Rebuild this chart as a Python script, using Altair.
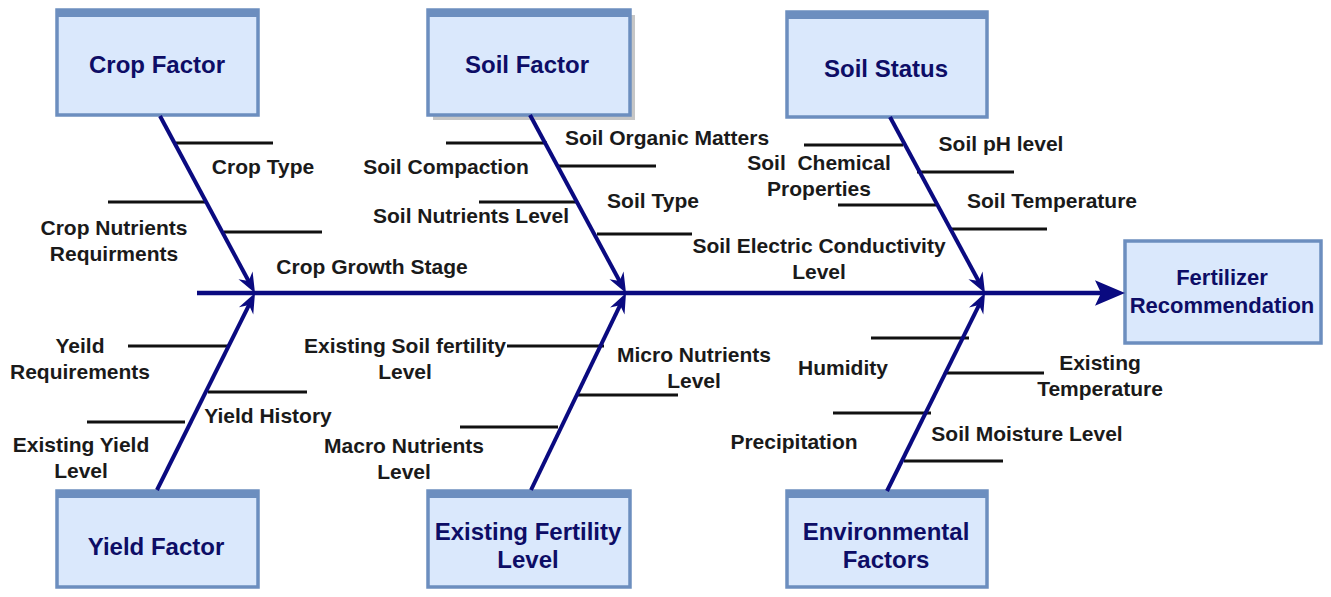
import math
import altair as alt
import pandas as pd

# ---------------- data ----------------
box_labels = ["Crop Factor", "Soil Factor", "Soil Status", "Yield Factor",
              "Existing Fertility\nLevel", "Environmental\nFactors",
              "Fertilizer\nRecommendation"]
box_left = [57, 428, 787, 57, 428, 787, 1125]
box_right = [258, 630, 987, 258, 630, 987, 1321]
box_top = [10, 10, 12, 491, 491, 491, 241]
box_bottom = [115, 115, 117, 587, 587, 587, 343]
box_text_x = [157, 527, 886, 156, 528, 886, 1222]
box_text_y = [73, 73, 77, 555, 540, 540, 285]
box_font = [24, 24, 24, 24, 24, 24, 22]
box_bar = [1, 1, 1, 1, 1, 1, 0]
box_shadow = [0, 1, 0, 0, 0, 0, 0]

branch_x1 = [160, 157, 530, 531, 890, 887]
branch_y1 = [116, 490, 115, 490, 117, 491]
branch_tip_x = [255, 255, 626, 626, 985, 985]
spine_y = 293
spine_x = [197, 1125]

rib_x1 = [176, 108, 224, 128, 208, 87,
          446, 558, 479, 597, 507, 578, 460,
          804, 917, 838, 949,
          871, 947, 833, 904]
rib_x2 = [273, 207, 322, 230, 307, 185,
          547, 656, 577, 692, 604, 678, 558,
          903, 1014, 936, 1047,
          969, 1044, 931, 1003]
rib_y = [143, 202, 232, 346, 392, 422,
         143, 166, 202, 234, 346, 395, 427,
         145, 172, 205, 229,
         338, 373, 413, 461]

cause_labels = ["Crop Type", "Crop Nutrients\nRequirments", "Crop Growth Stage",
                "Yeild\nRequirements", "Yield History", "Existing Yield\nLevel",
                "Soil Organic Matters", "Soil Compaction", "Soil Nutrients Level",
                "Soil Type", "Soil Electric Conductivity\nLevel",
                "Existing Soil fertility\nLevel", "Micro Nutrients\nLevel",
                "Macro Nutrients\nLevel",
                "Soil pH level", "Soil\u00a0\u00a0Chemical\nProperties", "Soil Temperature",
                "Humidity", "Existing\nTemperature", "Precipitation",
                "Soil Moisture Level"]
cause_x = [263, 114, 372, 80, 268, 81,
           667, 446, 471, 653, 819, 405, 694, 404,
           1001, 819, 1052,
           843, 1100, 794, 1027]
cause_y = [174, 235, 274, 353, 423, 452,
           145, 174, 223, 208, 253, 353, 362, 453,
           151, 170, 208,
           375, 370, 449, 441]

# ---------------- styles ----------------
NAVY = "#0a0a80"
FILL = "#dae8fc"
EDGE = "#6c8ebf"
TXT = "#1a1a1a"
FONT = "Liberation Sans"


def X(f):
    return alt.X(f, type="quantitative", axis=None,
                 scale=alt.Scale(domain=[8, 1323], nice=False, zero=False))


def Y(f):
    return alt.Y(f, type="quantitative", axis=None,
                 scale=alt.Scale(domain=[8, 589], nice=False, zero=False, reverse=True))


def X2(f):
    return alt.X2(f)


def Y2(f):
    return alt.Y2(f)


boxes = pd.DataFrame({"label": box_labels, "l": box_left, "r": box_right,
                      "t": box_top, "b": box_bottom, "tx": box_text_x,
                      "ty": box_text_y, "fs": box_font, "bar": box_bar, "sh": box_shadow})
boxes["sl"] = boxes["l"] + 5
boxes["sr"] = boxes["r"] + 5
boxes["st"] = boxes["t"] + 5
boxes["sb"] = boxes["b"] + 5
boxes["bt"] = boxes["t"] + 7
boxes["tyt"] = boxes["ty"] - (boxes["fs"] * 0.79).round()

shadow = alt.Chart(boxes[boxes.sh == 1]).mark_rect(color="#a0a0a0", opacity=0.6).encode(
    x=X("sl"), x2=X2("sr"), y=Y("st"), y2=Y2("sb"))
box_rect = alt.Chart(boxes).mark_rect(fill=FILL, stroke=EDGE, strokeWidth=3.5).encode(
    x=X("l"), x2=X2("r"), y=Y("t"), y2=Y2("b"))
box_barm = alt.Chart(boxes[boxes.bar == 1]).mark_rect(color=EDGE).encode(
    x=X("l"), x2=X2("r"), y=Y("t"), y2=Y2("bt"))
box_txt = alt.Chart(boxes).mark_text(
    font=FONT, fontWeight="bold", color="#0d0d66",
    baseline="top", align="center", lineBreak="\n", lineHeight=28).encode(
    x=X("tx"), y=Y("tyt"), text="label:N", size=alt.Size("fs:Q", scale=None))

# branches
rows = []
for x1, y1, xt in zip(branch_x1, branch_y1, branch_tip_x):
    dx, dy = xt - x1, spine_y - y1
    d = math.hypot(dx, dy)
    ang = math.degrees(math.atan2(dy, dx)) % 360
    rows.append({"x1": x1, "y1": y1, "xe": xt - dx / d * 11, "ye": spine_y - dy / d * 11,
                 "xt": xt, "yt": spine_y, "ang": ang})
br = pd.DataFrame(rows)

branch_lines = alt.Chart(br).mark_rule(color=NAVY, strokeWidth=4).encode(
    x=X("x1"), y=Y("y1"), x2=X2("xe"), y2=Y2("ye"))
head_path = "M0,0 L-2,-0.8 L-1.35,0 L-2,0.8 Z"
branch_heads = alt.Chart(br).mark_point(
    shape=head_path, filled=True, size=400, color=NAVY, opacity=1, strokeWidth=0).encode(
    x=X("xt"), y=Y("yt"), angle=alt.Angle("ang:Q", scale=None))

sp = pd.DataFrame({"x1": [spine_x[0]], "x2": [spine_x[1] - 22], "xt": [spine_x[1]],
                   "y": [spine_y], "ang": [0]})
spine = alt.Chart(sp).mark_rule(color=NAVY, strokeWidth=4.5).encode(
    x=X("x1"), x2=X2("x2"), y=Y("y"))
spine_head = alt.Chart(sp).mark_point(
    shape="M0,0 L-2,-0.85 L-1.6,0 L-2,0.85 Z", filled=True, size=900,
    color=NAVY, opacity=1, strokeWidth=0).encode(
    x=X("xt"), y=Y("y"), angle=alt.Angle("ang:Q", scale=None))

ribs = pd.DataFrame({"x1": rib_x1, "x2": rib_x2, "y": rib_y})
rib_lines = alt.Chart(ribs).mark_rule(color="#111111", strokeWidth=2.8).encode(
    x=X("x1"), x2=X2("x2"), y=Y("y"))

causes = pd.DataFrame({"label": cause_labels, "x": cause_x, "y": cause_y})
causes["yt"] = causes["y"] - 17
cause_txt = alt.Chart(causes).mark_text(
    font=FONT, fontSize=21, fontWeight="bold", color=TXT,
    baseline="top", align="center", lineBreak="\n", lineHeight=26).encode(
    x=X("x"), y=Y("yt"), text="label:N")

chart = alt.layer(
    shadow, box_rect, box_barm, box_txt,
    rib_lines, branch_lines, spine, branch_heads, spine_head, cause_txt
).properties(
    width=1315, height=581, autosize="none", padding=0,
    background="white"
).configure_view(stroke=None)

chart.save("out.html", embed_options={"renderer": "svg", "actions": False})
